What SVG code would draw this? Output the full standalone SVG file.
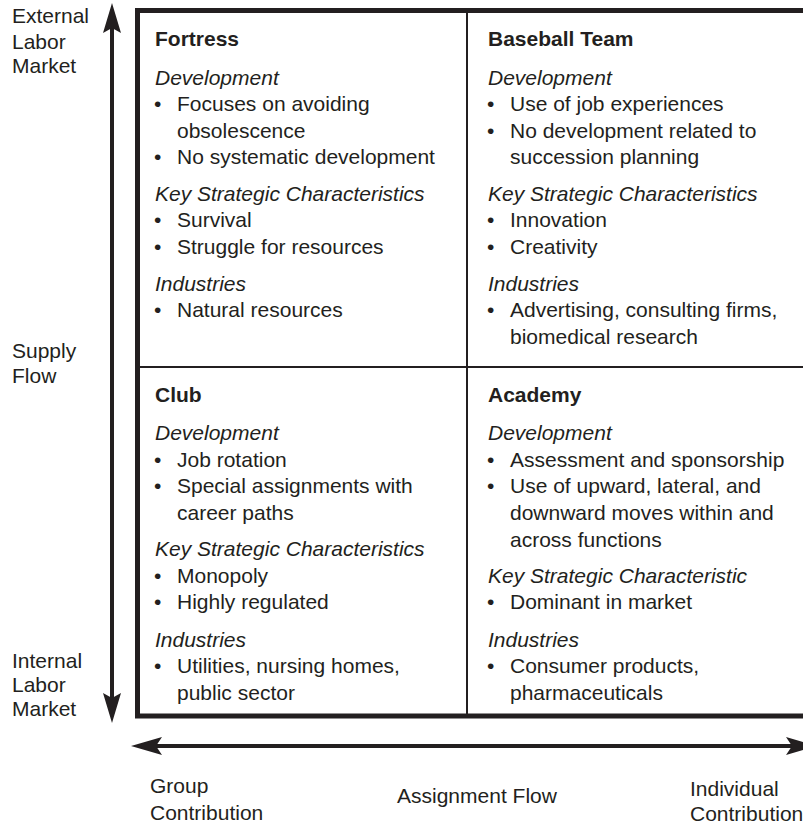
<svg xmlns="http://www.w3.org/2000/svg" width="803" height="825" viewBox="0 0 803 825">
<defs>
<style>
text{font-family:"Liberation Sans",Arial,sans-serif;font-size:21px;fill:#231f20}
.t{font-weight:bold}
.h{font-style:italic}
.ln{stroke:#231f20;fill:none}
.ah{fill:#231f20;stroke:none}
</style>
</defs>
<rect width="803" height="825" fill="#fff"/>
<g id="connectors">
<line class="ln" x1="112" y1="28" x2="112" y2="698" stroke-width="4"/>
<path class="ah" d="M112,3 L121,33 L112,28 L103,33 Z"/>
<path class="ah" d="M112,723 L121,693 L112,698 L103,693 Z"/>
<line class="ln" x1="156" y1="746" x2="803" y2="746" stroke-width="4"/>
<path class="ah" d="M131,746 L162,737 L156,746 L162,755 Z"/>
<path class="ah" d="M817,746 L786,737 L792,746 L786,755 Z"/>
</g>
<g id="grid">
<path class="ln" d="M830,10.5 L137.5,10.5 L137.5,716 L830,716" stroke-width="5"/>
<line class="ln" x1="467" y1="11" x2="467" y2="716" stroke-width="2"/>
<line class="ln" x1="137" y1="367" x2="803" y2="367" stroke-width="2"/>
</g>
<g id="axis-labels">
<text x="12" y="23">External</text>
<text x="12" y="49">Labor</text>
<text x="12" y="73">Market</text>
<text x="12" y="358">Supply</text>
<text x="12" y="383">Flow</text>
<text x="12" y="668">Internal</text>
<text x="12" y="692">Labor</text>
<text x="12" y="716">Market</text>
<text x="150" y="793">Group</text>
<text x="150" y="820">Contribution</text>
<text x="397" y="803">Assignment Flow</text>
<text x="690" y="796">Individual</text>
<text x="690" y="821">Contribution</text>
</g>
<g id="fortress">
<text class="t" x="155" y="46">Fortress</text>
<text class="h" x="155" y="84.5">Development</text>
<text x="154" y="111">•</text><text x="177" y="111">Focuses on avoiding</text>
<text x="177" y="137.7">obsolescence</text>
<text x="154" y="164.3">•</text><text x="177" y="164.3">No systematic development</text>
<text class="h" x="155" y="200.5">Key Strategic Characteristics</text>
<text x="154" y="227">•</text><text x="177" y="227">Survival</text>
<text x="154" y="253.7">•</text><text x="177" y="253.7">Struggle for resources</text>
<text class="h" x="155" y="290.5">Industries</text>
<text x="154" y="317">•</text><text x="177" y="317">Natural resources</text>
</g>
<g id="baseball-team">
<text class="t" x="488" y="46">Baseball Team</text>
<text class="h" x="488" y="84.5">Development</text>
<text x="487" y="111">•</text><text x="510" y="111">Use of job experiences</text>
<text x="487" y="137.7">•</text><text x="510" y="137.7">No development related to</text>
<text x="510" y="164.3">succession planning</text>
<text class="h" x="488" y="200.5">Key Strategic Characteristics</text>
<text x="487" y="227">•</text><text x="510" y="227">Innovation</text>
<text x="487" y="253.7">•</text><text x="510" y="253.7">Creativity</text>
<text class="h" x="488" y="290.5">Industries</text>
<text x="487" y="317">•</text><text x="510" y="317">Advertising, consulting firms,</text>
<text x="510" y="343.7">biomedical research</text>
</g>
<g id="club">
<text class="t" x="155" y="402">Club</text>
<text class="h" x="155" y="440">Development</text>
<text x="154" y="466.7">•</text><text x="177" y="466.7">Job rotation</text>
<text x="154" y="493.3">•</text><text x="177" y="493.3">Special assignments with</text>
<text x="177" y="520">career paths</text>
<text class="h" x="155" y="555.5">Key Strategic Characteristics</text>
<text x="154" y="582.5">•</text><text x="177" y="582.5">Monopoly</text>
<text x="154" y="609">•</text><text x="177" y="609">Highly regulated</text>
<text class="h" x="155" y="646.5">Industries</text>
<text x="154" y="673">•</text><text x="177" y="673">Utilities, nursing homes,</text>
<text x="177" y="700">public sector</text>
</g>
<g id="academy">
<text class="t" x="488" y="402">Academy</text>
<text class="h" x="488" y="440">Development</text>
<text x="487" y="466.7">•</text><text x="510" y="466.7">Assessment and sponsorship</text>
<text x="487" y="493.3">•</text><text x="510" y="493.3">Use of upward, lateral, and</text>
<text x="510" y="520">downward moves within and</text>
<text x="510" y="546.7">across functions</text>
<text class="h" x="488" y="582.5">Key Strategic Characteristic</text>
<text x="487" y="609">•</text><text x="510" y="609">Dominant in market</text>
<text class="h" x="488" y="646.5">Industries</text>
<text x="487" y="673">•</text><text x="510" y="673">Consumer products,</text>
<text x="510" y="700">pharmaceuticals</text>
</g>
</svg>
